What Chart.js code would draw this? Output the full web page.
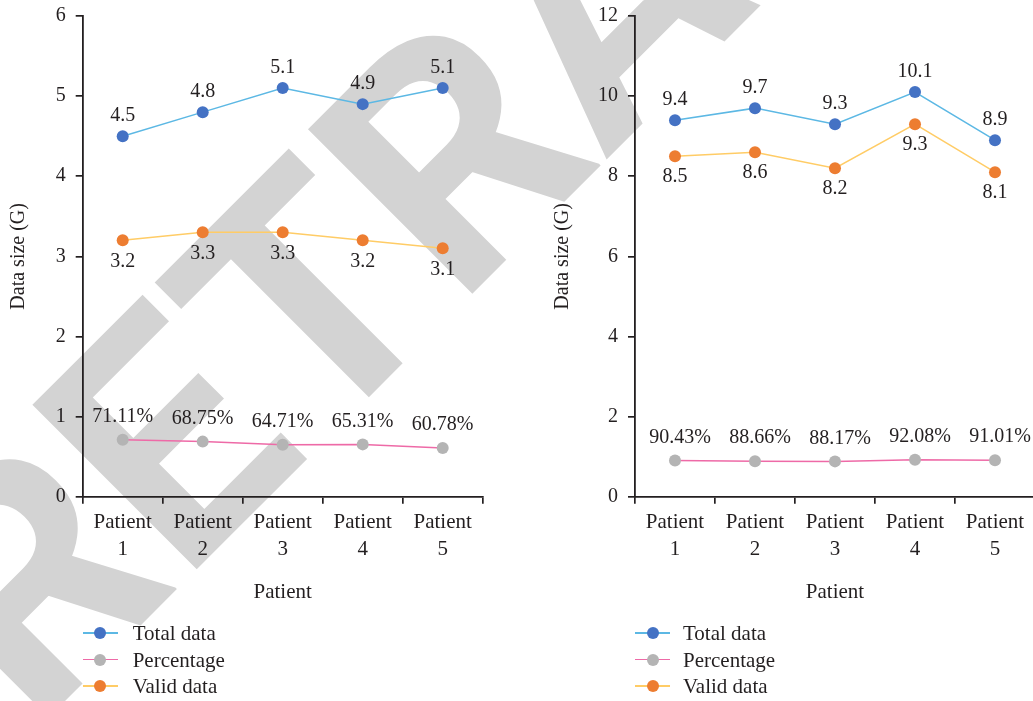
<!DOCTYPE html>
<html>
<head>
<meta charset="utf-8">
<script src="https://cdn.jsdelivr.net/npm/chart.js@4.4.1/dist/chart.umd.min.js"></script>
<style>
  html, body { margin: 0; padding: 0; width: 1033px; height: 701px; overflow: hidden; background: #fff; }
  #stamp { position: absolute; left: 0; top: 0; }
  .plot { position: absolute; top: 0; width: 520px; height: 607px; }
  #plotA { left: 0; }
  #plotB { left: 540px; }
  .legend { position: absolute; font: 21px "Liberation Serif", serif; color: #231f20; }
  .legend .row { position: absolute; left: 0; height: 26px; white-space: nowrap; }
  .legend .seg { position: absolute; left: 0; top: 12px; width: 35px; height: 1.8px; }
  .legend .dot { position: absolute; left: 11.5px; top: 6.9px; width: 12px; height: 12px; border-radius: 50%; }
  .legend .txt { position: absolute; top: 0; line-height: 26px; }
</style>
</head>
<body>
<canvas id="stamp" width="1033" height="701"></canvas>
<div class="plot" id="plotA"><canvas id="chartA"></canvas></div>
<div class="plot" id="plotB"><canvas id="chartB"></canvas></div>
<div class="legend" id="legendA"></div>
<div class="legend" id="legendB"></div>
<script>
// Patients on the x axis (two-line tick labels)
const patients = [['Patient', '1'], ['Patient', '2'], ['Patient', '3'], ['Patient', '4'], ['Patient', '5']];
const seriesNames = ['Total data', 'Percentage', 'Valid data'];

// First group (data size in G, percentage of valid data)
const totalA = [4.5, 4.8, 5.1, 4.9, 5.1];
const validA = [3.2, 3.3, 3.3, 3.2, 3.1];
const pctA = [71.11, 68.75, 64.71, 65.31, 60.78];

// Second group
const totalB = [9.4, 9.7, 9.3, 10.1, 8.9];
const validB = [8.5, 8.6, 8.2, 9.3, 8.1];
const pctB = [90.43, 88.66, 88.17, 92.08, 91.01];

// Y axis ranges
const yMaxA = 6, yStepA = 1;
const yMaxB = 12, yStepB = 2;

const SERIF = '"Liberation Serif", "Times New Roman", serif';
const INK = '#231f20';
const AXIS = '#231f20';

const seriesStyle = [
  { line: '#5cb8e4', dot: '#4472c4', dy: -20 },
  { line: '#ee6aa7', dot: '#b4b4b4', dy: -23 },
  { line: '#ffcc66', dot: '#ed7d31', dy: 21 }
];

// Draws each point's value next to it
const valueLabels = {
  id: 'valueLabels',
  afterDatasetsDraw(chart) {
    const ctx = chart.ctx;
    ctx.save();
    ctx.font = '20px ' + SERIF;
    ctx.fillStyle = INK;
    ctx.textAlign = 'center';
    ctx.textBaseline = 'middle';
    chart.data.datasets.forEach((ds, i) => {
      const meta = chart.getDatasetMeta(i);
      meta.data.forEach((pt, j) => {
        ctx.fillText(ds.valueText[j], pt.x + (ds.valueDx || 0), pt.y + ds.valueDy);
      });
    });
    ctx.restore();
  }
};

function buildDatasets(total, pct, valid, pctDx) {
  const sets = [
    { values: total, text: total.map(v => v.toFixed(1)), dx: 0 },
    { values: pct.map(p => p / 100), text: pct.map(p => p.toFixed(2) + '%'), dx: pctDx },
    { values: valid, text: valid.map(v => v.toFixed(1)), dx: 0 }
  ];
  return sets.map((s, i) => ({
    label: seriesNames[i],
    data: s.values,
    borderColor: seriesStyle[i].line,
    backgroundColor: seriesStyle[i].dot,
    borderWidth: 1.5,
    pointRadius: 6,
    pointHoverRadius: 6,
    pointBorderWidth: 0,
    pointBackgroundColor: seriesStyle[i].dot,
    tension: 0,
    valueText: s.text,
    valueDy: seriesStyle[i].dy,
    valueDx: s.dx
  }));
}

function makeChart(canvasId, datasets, yMax, yStep, yAxisWidth, yTitlePad, padRight) {
  return new Chart(document.getElementById(canvasId), {
    type: 'line',
    data: { labels: patients, datasets },
    options: {
      responsive: true,
      maintainAspectRatio: false,
      animation: false,
      events: [],
      layout: { padding: { left: 0, top: 16, right: padRight, bottom: 0 } },
      plugins: { legend: { display: false }, tooltip: { enabled: false } },
      scales: {
        x: {
          type: 'category',
          offset: true,
          grid: { display: true, offset: true, drawOnChartArea: false, drawTicks: true, tickLength: 7, color: AXIS, lineWidth: 1.7 },
          border: { display: true, color: AXIS, width: 1.8 },
          ticks: { color: INK, font: { family: SERIF, size: 21, lineHeight: 1.25 }, padding: 6, maxRotation: 0, autoSkip: false },
          title: { display: true, text: 'Patient', color: INK, font: { family: SERIF, size: 21 }, padding: { top: 0, bottom: 2 } },
          afterFit(scale) { scale.height = 110.3; scale.paddingLeft = 0; scale.paddingRight = 0; }
        },
        y: {
          min: 0,
          max: yMax,
          grid: { display: true, drawOnChartArea: false, drawTicks: true, tickLength: 7, color: AXIS, lineWidth: 1.7 },
          border: { display: true, color: AXIS, width: 1.8 },
          ticks: { stepSize: yStep, color: INK, font: { family: SERIF, size: 20 }, padding: 10 },
          title: { display: true, text: 'Data size (G)', color: INK, font: { family: SERIF, size: 20 }, padding: { top: yTitlePad, bottom: 0 } },
          afterFit(scale) { scale.width = yAxisWidth; scale.paddingTop = 0; scale.paddingBottom = 0; }
        }
      }
    },
    plugins: [valueLabels]
  });
}

function buildLegend(el, chart, left, textGap) {
  el.style.left = left + 'px';
  el.style.top = '620px';
  chart.data.datasets.forEach((ds, i) => {
    const row = document.createElement('div');
    row.className = 'row';
    row.style.top = (i * 26.7) + 'px';
    const seg = document.createElement('span');
    seg.className = 'seg';
    seg.style.background = ds.borderColor;
    const dot = document.createElement('span');
    dot.className = 'dot';
    dot.style.background = ds.pointBackgroundColor;
    const txt = document.createElement('span');
    txt.className = 'txt';
    txt.style.left = textGap + 'px';
    txt.textContent = ds.label;
    row.appendChild(seg);
    row.appendChild(dot);
    row.appendChild(txt);
    el.appendChild(row);
  });
}

// Diagonal stamp across the figure
function drawStamp() {
  const c = document.getElementById('stamp');
  const ctx = c.getContext('2d');
  ctx.save();
  ctx.fillStyle = '#d3d3d3';
  ctx.font = 'bold 327px Roboto, "Liberation Sans", sans-serif';
  ctx.textBaseline = 'alphabetic';
  ctx.translate(34, 732);
  ctx.rotate(-Math.PI / 4);
  ctx.fillText('RETRACTED', 0, 0);
  ctx.restore();
}

drawStamp();
const chartA = makeChart('chartA', buildDatasets(totalA, pctA, validA, 0), yMaxA, yStepA, 82.7, 7, 37.3);
const chartB = makeChart('chartB', buildDatasets(totalB, pctB, validB, 5), yMaxB, yStepB, 95, 11, 25);
buildLegend(document.getElementById('legendA'), chartA, 82.7, 50);
buildLegend(document.getElementById('legendB'), chartB, 635, 48);
</script>
</body>
</html>
